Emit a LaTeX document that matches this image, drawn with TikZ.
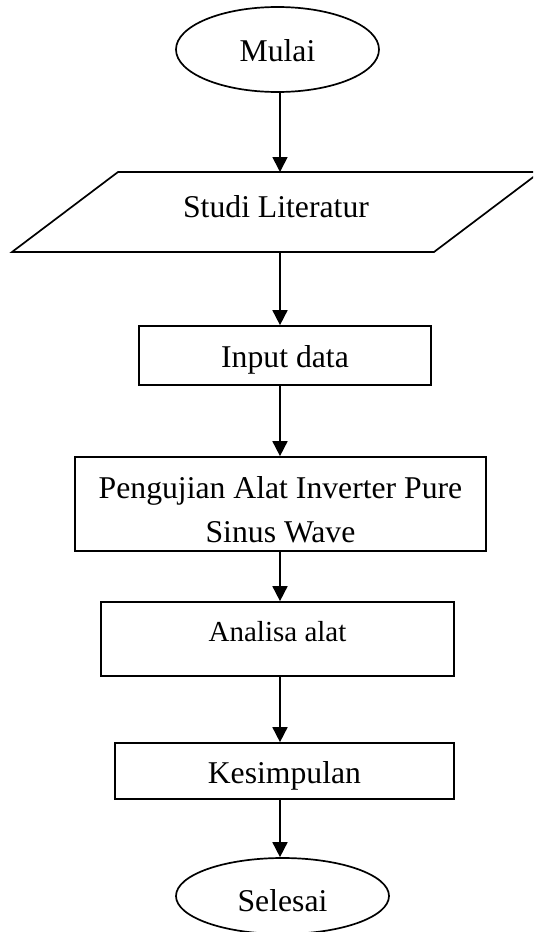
\documentclass[tikz,border=0pt]{standalone}
\usepackage{fontspec}
\setmainfont{Liberation Serif}
\usetikzlibrary{shapes.geometric,arrows.meta}
\newcommand\lowered[2]{\raisebox{-#1pt}{#2}}
\begin{document}
\begin{tikzpicture}[x=1pt,y=-1pt,
  every node/.style={inner sep=0pt,text height=0pt,text depth=0pt,
    font=\fontsize{31.7}{44}\selectfont},
  shapeline/.style={draw,line width=1.7pt},
  box/.style={shapeline,rectangle},
  oval/.style={shapeline,ellipse},
  arr/.style={line width=1.7pt,-{Triangle[length=15pt,width=15pt]}}]
\useasboundingbox (0,0) rectangle (533,932);
\clip (0,0) rectangle (533,932);
\fill[white] (0,0) rectangle (533,932);
\coordinate (ax) at (280,0);

\node[oval,minimum width=203pt,minimum height=85pt] (mulai) at (277.5,49.5) {\lowered{11.5}{Mulai}};
\node[rectangle,outer sep=0pt,minimum width=316pt,minimum height=80pt] (studi) at (276,212) {\lowered{5.5}{Studi Literatur}};
\draw[line width=1.7pt] (studi.north west) -- ([xshift=106pt]studi.north east) -- (studi.south east) -- ([xshift=-106pt]studi.south west) -- cycle;
\node[box,minimum width=292pt,minimum height=59pt] (input) at (285,355.5) {\lowered{12}{Input data}};
\node[box,minimum width=411pt,minimum height=94pt] (uji) at (280.5,504)
  {\lowered{38.5}{\begin{tabular}[b]{@{}c@{}}Pengujian Alat Inverter Pure\\Sinus Wave\end{tabular}}};
\node[box,minimum width=353pt,minimum height=74pt,font=\fontsize{29}{40}\selectfont] (analisa) at (277.5,639) {\lowered{2.6}{Analisa alat}};
\node[box,minimum width=339pt,minimum height=56pt] (kesimpulan) at (284.4,771) {\lowered{12.5}{Kesimpulan}};
\node[oval,minimum width=213pt,minimum height=76pt] (selesai) at (282.5,896) {\lowered{15.5}{Selesai}};

\draw[arr] (mulai.south -| ax) -- (studi.north -| ax);
\draw[arr] (studi.south -| ax) -- (input.north -| ax);
\draw[arr] (input.south -| ax) -- (uji.north -| ax);
\draw[arr] (uji.south -| ax) -- (analisa.north -| ax);
\draw[arr] (analisa.south -| ax) -- (kesimpulan.north -| ax);
\draw[arr] (kesimpulan.south -| ax) -- (selesai.north -| ax);
\end{tikzpicture}
\end{document}
